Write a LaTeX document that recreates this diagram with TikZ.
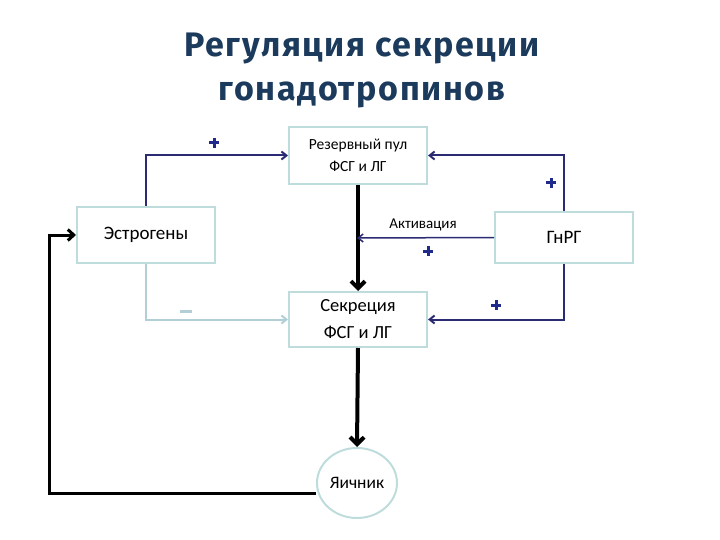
\documentclass[tikz,border=0pt]{standalone}
\usepackage{fontspec}
\setmainfont{Carlito}
\newfontfamily\titlefont[LetterSpace=5]{Fira Sans}
\usetikzlibrary{arrows.meta,shapes.geometric}
\definecolor{boxc}{HTML}{BFDCDC}
\definecolor{navy}{HTML}{2B2B74}
\definecolor{plusc}{HTML}{1F2A8A}
\definecolor{inh}{HTML}{B3CFD6}
\definecolor{titlec}{HTML}{1B3A5C}
\tikzset{
  box/.style={draw=boxc, line width=2pt, fill=white, minimum width=138pt, align=center, inner sep=0pt},
  navyarrow/.style={draw=navy, line width=2pt, -{Straight Barb[length=5pt,width=8pt]}},
  thinarrow/.style={draw=navy, line width=1.5pt, -{Straight Barb[length=5pt,width=8pt]}},
  inharrow/.style={draw=inh, line width=2pt, -{Straight Barb[length=5pt,width=8pt]}},
  blackarrow/.style={draw=black, line width=4pt, -{Straight Barb[length=7pt,width=14pt]}},
  loopline/.style={draw=black, line width=3pt, -{Straight Barb[length=6pt,width=11pt]}},
  plussign/.pic={\draw[plusc, line width=3pt] (-5,0) -- (5,0) (0,-5) -- (0,5);},
  lbl/.style={font=\fontsize{15}{17}\selectfont}
}
\begin{document}
\begin{tikzpicture}[x=1pt,y=-1pt]
\useasboundingbox (0,0) rectangle (720,540);
\node[titlec, align=center, font=\titlefont\bfseries\fontsize{34}{44}\selectfont] (title) at (362,70) {Регуляция секреции\\гонадотропинов};

\node[box, minimum height=57pt, font=\fontsize{15.5}{22}\selectfont] (pool) at (358,155.5) {Резервный пул\\ФСГ и ЛГ};
\node[box, minimum height=56pt, font=\fontsize{19}{22}\selectfont] (estr) at (146,235) {Эстрогены};
\node[box, minimum height=51pt, font=\fontsize{19}{22}\selectfont] (gnrg) at (564,237.5) {ГнРГ};
\node[box, minimum height=55pt, font=\fontsize{18.5}{27}\selectfont] (secr) at (358,319.5) {Секреция\\ФСГ и ЛГ};
\node[draw=boxc, line width=2pt, ellipse, minimum width=80pt, minimum height=70pt, inner sep=0pt, font=\fontsize{17.5}{20}\selectfont] (ovary) at (357,483) {Яичник};

\coordinate (act) at (357,238);

% estrogen -> pool (+)
\draw[navyarrow] (estr.north) |- (pool.west);
\pic at (214,143) {plussign};
% estrogen -> secretion (-)
\draw[inharrow] (estr.south) |- (secr.west);
\draw[inh, line width=3pt] (180,311) -- (192,311);
% pool -> secretion
\draw[blackarrow] (pool.south) -- (secr.north);
% GnRH -> activation
\draw[thinarrow] (gnrg.west) -- (act);
\node[lbl, anchor=south] (actlbl) at (423,234) {Активация};
\pic at (428,251) {plussign};
% GnRH -> pool
\draw[navyarrow] (gnrg.north) |- (pool.east);
\pic at (551,183) {plussign};
% GnRH -> secretion
\draw[navyarrow] (gnrg.south) |- (secr.east);
\pic at (496,305) {plussign};
% secretion -> ovary
\draw[blackarrow] (secr.south) -- (ovary.north);
% ovary -> estrogen
\draw[loopline] (ovary.west |- 0,493) -- (49,493) |- (estr.west);
\end{tikzpicture}
\end{document}
